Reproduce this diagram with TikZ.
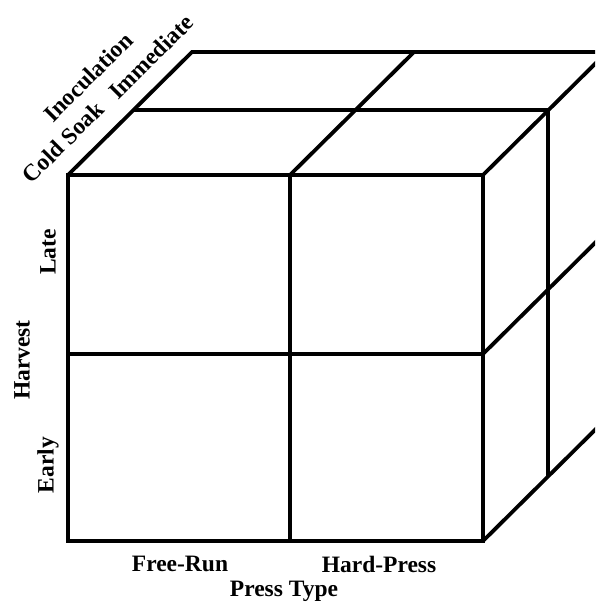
\documentclass[tikz,border=0pt]{standalone}
\usepackage{fontspec}
\setmainfont{Liberation Serif}
\begin{document}
\begin{tikzpicture}[x=1pt,y=-1pt,
  edge/.style={line width=3.8pt,line join=miter},
  lab/.style={font=\fontsize{23.5}{26}\selectfont\bfseries,inner sep=0pt}]
\useasboundingbox (0,0) rectangle (595,602);
\clip (0,0) rectangle (595,602);
% front face corners
\coordinate (FTL) at (68,175);
\coordinate (FTR) at (483,175);
\coordinate (FBL) at (68,541);
\coordinate (FBR) at (483,541);
\coordinate (FTM) at (290,175);
\coordinate (FBM) at (290,541);
\coordinate (FML) at (68,354);
\coordinate (FMR) at (483,354);
% depth offsets
\def\mx{65}\def\my{-65}
\def\bx{124}\def\by{-123}
% front face
\draw[edge] (FTL) rectangle (FBR);
\draw[edge] (FTM) -- (FBM);
\draw[edge] (FML) -- (FMR);
% top face
\draw[edge] (FTL) -- ++(\bx,\by) -- ++(500,0);
\draw[edge] ([shift={(\mx,\my)}]FTL) -- ([shift={(\mx,\my)}]FTR) -- ([shift={(\mx,0)}]FBR |- {0,476});
\draw[edge] (FTM) -- ++(\bx,\by);
% right face
\draw[edge] (FTR) -- ++(\bx,\by);
\draw[edge] (FMR) -- ++(\bx,\by);
\draw[edge] (FBR) -- ++(\bx,\by);
% labels
\node[lab] (fr) at (180,564) {Free-Run};
\node[lab] (hp) at (379,564) {Hard-Press};
\node[lab] (pt) at (284,591) {Press Type};
\node[lab,rotate=90] (late) at (48,252) {Late};
\node[lab,rotate=90] (early) at (48,465) {Early};
\node[lab,rotate=90] (harv) at (22,360) {Harvest};
\node[lab,rotate=45] (cs) at (63,142) {Cold Soak};
\node[lab,rotate=45] (ino) at (88,77) {Inoculation};
\node[lab,rotate=45] (imm) at (151,57) {Immediate};
\end{tikzpicture}
\end{document}
